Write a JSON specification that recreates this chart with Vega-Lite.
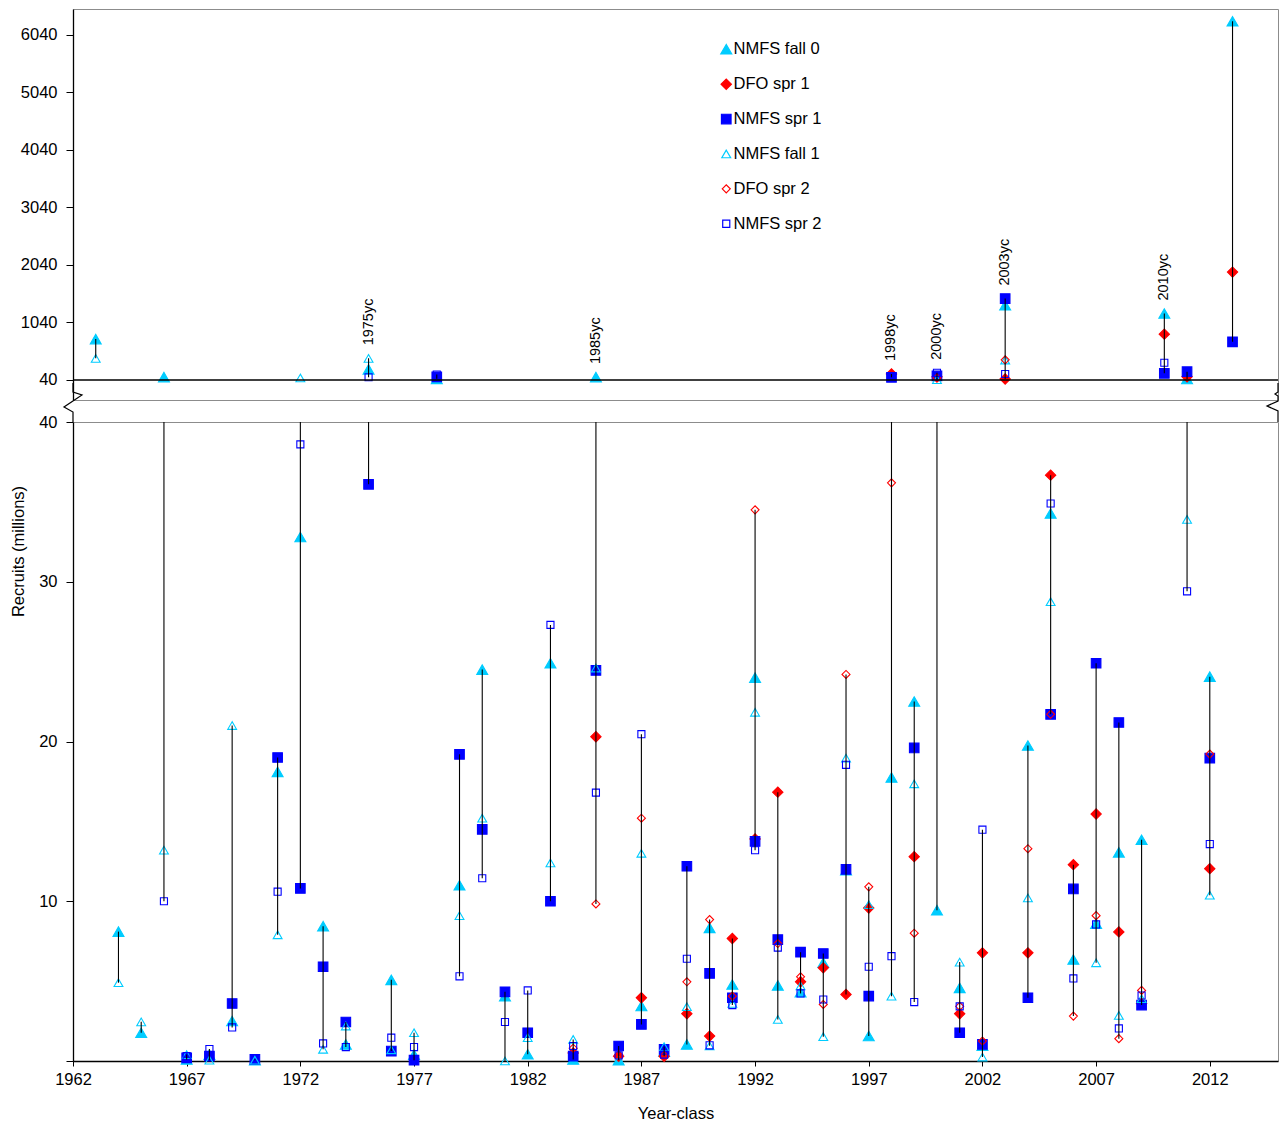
{
  "$schema": "https://vega.github.io/schema/vega-lite/v6.json",
  "padding": {"left": 10, "top": 8, "right": 2, "bottom": 5},
  "background": "white",
  "config": {
    "font": "Liberation Sans",
    "view": {"stroke": "#8c8c8c", "strokeWidth": 1},
    "axis": {"labelFont": "Liberation Sans", "labelFontSize": 16.5, "labelColor": "#000", "labelFlush": false, "titleFont": "Liberation Sans", "titleFontSize": 16.5, "titleFontWeight": "normal", "titleColor": "#000", "domainColor": "#000", "domainWidth": 1.3, "tickColor": "#000", "grid": false},
    "legend": {"orient": "none", "legendX": 645, "legendY": 32, "padding": 0, "labelFont": "Liberation Sans", "labelFontSize": 16.5, "labelColor": "#000", "rowPadding": 17.9, "labelOffset": -1, "symbolStrokeWidth": 1.2, "labelLimit": 300}
  },
  "datasets": {
    "recruits": [
      {"year": 1963, "series": "NMFS fall 0", "value": 751},
      {"year": 1963, "series": "NMFS fall 1", "value": 416},
      {"year": 1964, "series": "NMFS fall 0", "value": 8.1},
      {"year": 1964, "series": "NMFS fall 1", "value": 4.9},
      {"year": 1965, "series": "NMFS fall 0", "value": 1.77},
      {"year": 1965, "series": "NMFS fall 1", "value": 2.45},
      {"year": 1966, "series": "NMFS fall 0", "value": 90},
      {"year": 1966, "series": "NMFS fall 1", "value": 13.2},
      {"year": 1966, "series": "NMFS spr 2", "value": 10.0},
      {"year": 1967, "series": "NMFS fall 0", "value": 0.1},
      {"year": 1967, "series": "NMFS spr 1", "value": 0.2},
      {"year": 1967, "series": "NMFS fall 1", "value": 0.4},
      {"year": 1967, "series": "NMFS spr 2", "value": 0.3},
      {"year": 1968, "series": "NMFS fall 0", "value": 0.4},
      {"year": 1968, "series": "NMFS spr 1", "value": 0.3},
      {"year": 1968, "series": "NMFS fall 1", "value": 0.05},
      {"year": 1968, "series": "NMFS spr 2", "value": 0.75},
      {"year": 1969, "series": "NMFS fall 0", "value": 2.5},
      {"year": 1969, "series": "NMFS spr 1", "value": 3.6},
      {"year": 1969, "series": "NMFS fall 1", "value": 21.0},
      {"year": 1969, "series": "NMFS spr 2", "value": 2.1},
      {"year": 1970, "series": "NMFS fall 0", "value": 0.05},
      {"year": 1970, "series": "NMFS spr 1", "value": 0.1},
      {"year": 1970, "series": "NMFS fall 1", "value": 0.05},
      {"year": 1971, "series": "NMFS fall 0", "value": 18.1},
      {"year": 1971, "series": "NMFS spr 1", "value": 19.0},
      {"year": 1971, "series": "NMFS fall 1", "value": 7.9},
      {"year": 1971, "series": "NMFS spr 2", "value": 10.6},
      {"year": 1972, "series": "NMFS fall 0", "value": 32.8},
      {"year": 1972, "series": "NMFS spr 1", "value": 10.8},
      {"year": 1972, "series": "NMFS fall 1", "value": 75},
      {"year": 1972, "series": "NMFS spr 2", "value": 38.6},
      {"year": 1973, "series": "NMFS fall 0", "value": 8.44},
      {"year": 1973, "series": "NMFS spr 1", "value": 5.9},
      {"year": 1973, "series": "NMFS fall 1", "value": 0.73},
      {"year": 1973, "series": "NMFS spr 2", "value": 1.1},
      {"year": 1974, "series": "NMFS fall 0", "value": 1.04},
      {"year": 1974, "series": "NMFS spr 1", "value": 2.44},
      {"year": 1974, "series": "NMFS fall 1", "value": 2.19},
      {"year": 1974, "series": "NMFS spr 2", "value": 0.87},
      {"year": 1975, "series": "NMFS fall 0", "value": 225},
      {"year": 1975, "series": "NMFS spr 1", "value": 36.1},
      {"year": 1975, "series": "NMFS fall 1", "value": 416},
      {"year": 1975, "series": "NMFS spr 2", "value": 87},
      {"year": 1976, "series": "NMFS fall 0", "value": 5.08},
      {"year": 1976, "series": "NMFS spr 1", "value": 0.62},
      {"year": 1976, "series": "NMFS fall 1", "value": 0.7},
      {"year": 1976, "series": "NMFS spr 2", "value": 1.46},
      {"year": 1977, "series": "NMFS fall 0", "value": 0.4},
      {"year": 1977, "series": "NMFS spr 1", "value": 0.05},
      {"year": 1977, "series": "NMFS fall 1", "value": 1.77},
      {"year": 1977, "series": "NMFS spr 2", "value": 0.87},
      {"year": 1978, "series": "NMFS fall 0", "value": 60},
      {"year": 1978, "series": "NMFS spr 1", "value": 95},
      {"year": 1978, "series": "NMFS spr 2", "value": 135},
      {"year": 1979, "series": "NMFS fall 0", "value": 11.0},
      {"year": 1979, "series": "NMFS spr 1", "value": 19.2},
      {"year": 1979, "series": "NMFS fall 1", "value": 9.1},
      {"year": 1979, "series": "NMFS spr 2", "value": 5.3},
      {"year": 1980, "series": "NMFS fall 0", "value": 24.5},
      {"year": 1980, "series": "NMFS spr 1", "value": 14.5},
      {"year": 1980, "series": "NMFS fall 1", "value": 15.2},
      {"year": 1980, "series": "NMFS spr 2", "value": 11.44},
      {"year": 1981, "series": "NMFS fall 0", "value": 4.06},
      {"year": 1981, "series": "NMFS spr 1", "value": 4.33},
      {"year": 1981, "series": "NMFS fall 1", "value": 0.0},
      {"year": 1981, "series": "NMFS spr 2", "value": 2.44},
      {"year": 1982, "series": "NMFS fall 0", "value": 0.42},
      {"year": 1982, "series": "NMFS spr 1", "value": 1.77},
      {"year": 1982, "series": "NMFS fall 1", "value": 1.46},
      {"year": 1982, "series": "NMFS spr 2", "value": 4.42},
      {"year": 1983, "series": "NMFS fall 0", "value": 24.9},
      {"year": 1983, "series": "NMFS spr 1", "value": 10.0},
      {"year": 1983, "series": "NMFS fall 1", "value": 12.4},
      {"year": 1983, "series": "NMFS spr 2", "value": 27.3},
      {"year": 1984, "series": "NMFS fall 0", "value": 0.1},
      {"year": 1984, "series": "DFO spr 1", "value": 0.5},
      {"year": 1984, "series": "NMFS spr 1", "value": 0.31},
      {"year": 1984, "series": "NMFS fall 1", "value": 1.35},
      {"year": 1984, "series": "DFO spr 2", "value": 0.8},
      {"year": 1984, "series": "NMFS spr 2", "value": 0.94},
      {"year": 1985, "series": "NMFS fall 0", "value": 90},
      {"year": 1985, "series": "DFO spr 1", "value": 20.3},
      {"year": 1985, "series": "NMFS spr 1", "value": 24.45},
      {"year": 1985, "series": "NMFS fall 1", "value": 24.6},
      {"year": 1985, "series": "DFO spr 2", "value": 9.83},
      {"year": 1985, "series": "NMFS spr 2", "value": 16.8},
      {"year": 1986, "series": "NMFS fall 0", "value": 0.05},
      {"year": 1986, "series": "DFO spr 1", "value": 0.3},
      {"year": 1986, "series": "NMFS spr 1", "value": 0.94},
      {"year": 1986, "series": "NMFS fall 1", "value": 0.05},
      {"year": 1986, "series": "DFO spr 2", "value": 0.4},
      {"year": 1986, "series": "NMFS spr 2", "value": 0.35},
      {"year": 1987, "series": "NMFS fall 0", "value": 3.44},
      {"year": 1987, "series": "DFO spr 1", "value": 3.96},
      {"year": 1987, "series": "NMFS spr 1", "value": 2.29},
      {"year": 1987, "series": "NMFS fall 1", "value": 13.0},
      {"year": 1987, "series": "DFO spr 2", "value": 15.2},
      {"year": 1987, "series": "NMFS spr 2", "value": 20.46},
      {"year": 1988, "series": "NMFS fall 0", "value": 0.6},
      {"year": 1988, "series": "DFO spr 1", "value": 0.3},
      {"year": 1988, "series": "NMFS spr 1", "value": 0.73},
      {"year": 1988, "series": "NMFS fall 1", "value": 0.9},
      {"year": 1988, "series": "DFO spr 2", "value": 0.35},
      {"year": 1988, "series": "NMFS spr 2", "value": 0.4},
      {"year": 1989, "series": "NMFS fall 0", "value": 1.04},
      {"year": 1989, "series": "DFO spr 1", "value": 2.96},
      {"year": 1989, "series": "NMFS spr 1", "value": 12.19},
      {"year": 1989, "series": "NMFS fall 1", "value": 3.4},
      {"year": 1989, "series": "DFO spr 2", "value": 4.96},
      {"year": 1989, "series": "NMFS spr 2", "value": 6.4},
      {"year": 1990, "series": "NMFS fall 0", "value": 8.33},
      {"year": 1990, "series": "DFO spr 1", "value": 1.56},
      {"year": 1990, "series": "NMFS spr 1", "value": 5.48},
      {"year": 1990, "series": "NMFS fall 1", "value": 0.95},
      {"year": 1990, "series": "DFO spr 2", "value": 8.85},
      {"year": 1990, "series": "NMFS spr 2", "value": 0.98},
      {"year": 1991, "series": "NMFS fall 0", "value": 4.79},
      {"year": 1991, "series": "DFO spr 1", "value": 7.67},
      {"year": 1991, "series": "NMFS spr 1", "value": 3.96},
      {"year": 1991, "series": "NMFS fall 1", "value": 3.6},
      {"year": 1991, "series": "DFO spr 2", "value": 4.06},
      {"year": 1991, "series": "NMFS spr 2", "value": 3.5},
      {"year": 1992, "series": "NMFS fall 0", "value": 24.0},
      {"year": 1992, "series": "DFO spr 1", "value": 13.9},
      {"year": 1992, "series": "NMFS spr 1", "value": 13.75},
      {"year": 1992, "series": "NMFS fall 1", "value": 21.83},
      {"year": 1992, "series": "DFO spr 2", "value": 34.5},
      {"year": 1992, "series": "NMFS spr 2", "value": 13.19},
      {"year": 1993, "series": "NMFS fall 0", "value": 4.73},
      {"year": 1993, "series": "DFO spr 1", "value": 16.83},
      {"year": 1993, "series": "NMFS spr 1", "value": 7.6},
      {"year": 1993, "series": "NMFS fall 1", "value": 2.6},
      {"year": 1993, "series": "DFO spr 2", "value": 7.35},
      {"year": 1993, "series": "NMFS spr 2", "value": 7.1},
      {"year": 1994, "series": "NMFS fall 0", "value": 4.3},
      {"year": 1994, "series": "DFO spr 1", "value": 4.96},
      {"year": 1994, "series": "NMFS spr 1", "value": 6.81},
      {"year": 1994, "series": "NMFS fall 1", "value": 4.7},
      {"year": 1994, "series": "DFO spr 2", "value": 5.27},
      {"year": 1994, "series": "NMFS spr 2", "value": 4.23},
      {"year": 1995, "series": "NMFS fall 0", "value": 6.15},
      {"year": 1995, "series": "DFO spr 1", "value": 5.83},
      {"year": 1995, "series": "NMFS spr 1", "value": 6.73},
      {"year": 1995, "series": "NMFS fall 1", "value": 1.52},
      {"year": 1995, "series": "DFO spr 2", "value": 3.54},
      {"year": 1995, "series": "NMFS spr 2", "value": 3.85},
      {"year": 1996, "series": "NMFS fall 0", "value": 11.94},
      {"year": 1996, "series": "DFO spr 1", "value": 4.17},
      {"year": 1996, "series": "NMFS spr 1", "value": 12.0},
      {"year": 1996, "series": "NMFS fall 1", "value": 18.96},
      {"year": 1996, "series": "DFO spr 2", "value": 24.2},
      {"year": 1996, "series": "NMFS spr 2", "value": 18.54},
      {"year": 1997, "series": "NMFS fall 0", "value": 1.56},
      {"year": 1997, "series": "DFO spr 1", "value": 9.58},
      {"year": 1997, "series": "NMFS spr 1", "value": 4.06},
      {"year": 1997, "series": "NMFS fall 1", "value": 9.79},
      {"year": 1997, "series": "DFO spr 2", "value": 10.9},
      {"year": 1997, "series": "NMFS spr 2", "value": 5.9},
      {"year": 1998, "series": "NMFS fall 0", "value": 17.75},
      {"year": 1998, "series": "DFO spr 1", "value": 144},
      {"year": 1998, "series": "NMFS spr 1", "value": 87},
      {"year": 1998, "series": "NMFS fall 1", "value": 4.06},
      {"year": 1998, "series": "DFO spr 2", "value": 36.19},
      {"year": 1998, "series": "NMFS spr 2", "value": 6.56},
      {"year": 1999, "series": "NMFS fall 0", "value": 22.5},
      {"year": 1999, "series": "DFO spr 1", "value": 12.79},
      {"year": 1999, "series": "NMFS spr 1", "value": 19.6},
      {"year": 1999, "series": "NMFS fall 1", "value": 17.35},
      {"year": 1999, "series": "DFO spr 2", "value": 8.0},
      {"year": 1999, "series": "NMFS spr 2", "value": 3.69},
      {"year": 2000, "series": "NMFS fall 0", "value": 9.44},
      {"year": 2000, "series": "DFO spr 1", "value": 95},
      {"year": 2000, "series": "NMFS spr 1", "value": 110},
      {"year": 2000, "series": "NMFS fall 1", "value": 45},
      {"year": 2000, "series": "DFO spr 2", "value": 75},
      {"year": 2000, "series": "NMFS spr 2", "value": 165},
      {"year": 2001, "series": "NMFS fall 0", "value": 4.58},
      {"year": 2001, "series": "DFO spr 1", "value": 2.96},
      {"year": 2001, "series": "NMFS spr 1", "value": 1.77},
      {"year": 2001, "series": "NMFS fall 1", "value": 6.19},
      {"year": 2001, "series": "DFO spr 2", "value": 3.42},
      {"year": 2001, "series": "NMFS spr 2", "value": 3.42},
      {"year": 2002, "series": "NMFS fall 0", "value": 0.95},
      {"year": 2002, "series": "DFO spr 1", "value": 6.77},
      {"year": 2002, "series": "NMFS spr 1", "value": 1.04},
      {"year": 2002, "series": "NMFS fall 1", "value": 0.25},
      {"year": 2002, "series": "DFO spr 2", "value": 1.25},
      {"year": 2002, "series": "NMFS spr 2", "value": 14.48},
      {"year": 2003, "series": "NMFS fall 0", "value": 1340},
      {"year": 2003, "series": "DFO spr 1", "value": 57},
      {"year": 2003, "series": "NMFS spr 1", "value": 1456},
      {"year": 2003, "series": "NMFS fall 1", "value": 387},
      {"year": 2003, "series": "DFO spr 2", "value": 390},
      {"year": 2003, "series": "NMFS spr 2", "value": 144},
      {"year": 2004, "series": "NMFS fall 0", "value": 19.75},
      {"year": 2004, "series": "DFO spr 1", "value": 6.77},
      {"year": 2004, "series": "NMFS spr 1", "value": 3.96},
      {"year": 2004, "series": "NMFS fall 1", "value": 10.21},
      {"year": 2004, "series": "DFO spr 2", "value": 13.29},
      {"year": 2005, "series": "NMFS fall 0", "value": 34.27},
      {"year": 2005, "series": "DFO spr 1", "value": 36.67},
      {"year": 2005, "series": "NMFS spr 1", "value": 21.7},
      {"year": 2005, "series": "NMFS fall 1", "value": 28.75},
      {"year": 2005, "series": "DFO spr 2", "value": 21.7},
      {"year": 2005, "series": "NMFS spr 2", "value": 34.9},
      {"year": 2006, "series": "NMFS fall 0", "value": 6.35},
      {"year": 2006, "series": "DFO spr 1", "value": 12.29},
      {"year": 2006, "series": "NMFS spr 1", "value": 10.77},
      {"year": 2006, "series": "DFO spr 2", "value": 2.81},
      {"year": 2006, "series": "NMFS spr 2", "value": 5.17},
      {"year": 2007, "series": "NMFS fall 0", "value": 8.6},
      {"year": 2007, "series": "DFO spr 1", "value": 15.46},
      {"year": 2007, "series": "NMFS spr 1", "value": 24.9},
      {"year": 2007, "series": "NMFS fall 1", "value": 6.15},
      {"year": 2007, "series": "DFO spr 2", "value": 9.1},
      {"year": 2007, "series": "NMFS spr 2", "value": 8.55},
      {"year": 2008, "series": "NMFS fall 0", "value": 13.06},
      {"year": 2008, "series": "DFO spr 1", "value": 8.08},
      {"year": 2008, "series": "NMFS spr 1", "value": 21.19},
      {"year": 2008, "series": "NMFS fall 1", "value": 2.85},
      {"year": 2008, "series": "DFO spr 2", "value": 1.4},
      {"year": 2008, "series": "NMFS spr 2", "value": 2.04},
      {"year": 2009, "series": "NMFS fall 0", "value": 13.85},
      {"year": 2009, "series": "DFO spr 1", "value": 3.6},
      {"year": 2009, "series": "NMFS spr 1", "value": 3.5},
      {"year": 2009, "series": "NMFS fall 1", "value": 3.9},
      {"year": 2009, "series": "DFO spr 2", "value": 4.42},
      {"year": 2009, "series": "NMFS spr 2", "value": 4.1},
      {"year": 2010, "series": "NMFS fall 0", "value": 1196},
      {"year": 2010, "series": "DFO spr 1", "value": 837},
      {"year": 2010, "series": "NMFS spr 1", "value": 156},
      {"year": 2010, "series": "NMFS spr 2", "value": 340},
      {"year": 2011, "series": "NMFS fall 0", "value": 57},
      {"year": 2011, "series": "DFO spr 1", "value": 97},
      {"year": 2011, "series": "NMFS spr 1", "value": 184},
      {"year": 2011, "series": "NMFS fall 1", "value": 33.9},
      {"year": 2011, "series": "NMFS spr 2", "value": 29.4},
      {"year": 2012, "series": "NMFS fall 0", "value": 24.06},
      {"year": 2012, "series": "DFO spr 1", "value": 12.04},
      {"year": 2012, "series": "NMFS spr 1", "value": 18.96},
      {"year": 2012, "series": "NMFS fall 1", "value": 10.38},
      {"year": 2012, "series": "DFO spr 2", "value": 19.21},
      {"year": 2012, "series": "NMFS spr 2", "value": 13.58},
      {"year": 2013, "series": "NMFS fall 0", "value": 6279},
      {"year": 2013, "series": "DFO spr 1", "value": 1917},
      {"year": 2013, "series": "NMFS spr 1", "value": 704}
    ]
  },
  "vconcat": [
    {
      "width": 1205,
      "height": 391,
      "layer": [
        {
          "data": {"name": "recruits"},
          "transform": [{"filter": "datum.value >= 40"}],
          "mark": {"type": "point", "filled": true, "opacity": 1, "strokeWidth": 1.1},
          "encoding": {
            "x": {"field": "year", "type": "quantitative", "scale": {"domain": [1962, 2015], "nice": false, "zero": false}, "axis": null},
            "y": {"field": "value", "type": "quantitative", "scale": {"domain": [-308, 6492], "nice": false, "zero": false}, "axis": {"values": [40, 1040, 2040, 3040, 4040, 5040, 6040], "format": "d", "title": null, "tickSize": 7, "labelPadding": 9}},
            "shape": {"field": "series", "type": "nominal", "scale": {"domain": ["NMFS fall 0", "DFO spr 1", "NMFS spr 1", "NMFS fall 1", "DFO spr 2", "NMFS spr 2"], "range": ["triangle-up", "diamond", "square", "triangle-up", "diamond", "square"]}, "legend": {"title": null}},
            "fill": {"field": "series", "type": "nominal", "scale": {"domain": ["NMFS fall 0", "DFO spr 1", "NMFS spr 1", "NMFS fall 1", "DFO spr 2", "NMFS spr 2"], "range": ["#00CCFF", "#FF0000", "#0000FF", "transparent", "transparent", "transparent"]}, "legend": {"title": null}},
            "stroke": {"field": "series", "type": "nominal", "scale": {"domain": ["NMFS fall 0", "DFO spr 1", "NMFS spr 1", "NMFS fall 1", "DFO spr 2", "NMFS spr 2"], "range": ["#00CCFF", "#FF0000", "#0000FF", "#00CCFF", "#FF0000", "#0000FF"]}, "legend": {"title": null}},
            "size": {"field": "series", "type": "nominal", "scale": {"domain": ["NMFS fall 0", "DFO spr 1", "NMFS spr 1", "NMFS fall 1", "DFO spr 2", "NMFS spr 2"], "range": [120, 50, 42, 50, 45, 42]}, "legend": {"title": null}}
          }
        },
        {
          "data": {"name": "recruits"},
          "transform": [{"filter": "datum.value >= 40"}],
          "mark": {"type": "rule", "color": "#000", "strokeWidth": 1.1},
          "encoding": {
            "x": {"field": "year", "type": "quantitative", "axis": null},
            "y": {"aggregate": "min", "field": "value", "type": "quantitative"},
            "y2": {"aggregate": "max", "field": "value"}
          }
        },
        {
          "data": {"values": [{"base": 40}]},
          "mark": {"type": "rule", "color": "#000", "strokeWidth": 1.5},
          "encoding": {"y": {"field": "base", "type": "quantitative"}}
        },
        {
          "data": {"name": "recruits"},
          "transform": [
            {"joinaggregate": [{"op": "max", "field": "value", "as": "maxv"}], "groupby": ["year"]},
            {"filter": "datum.value == datum.maxv && indexof([1975, 1985, 1998, 2000, 2003, 2010], datum.year) >= 0"},
            {"calculate": "datum.year + 'yc'", "as": "label"}
          ],
          "mark": {"type": "text", "angle": 270, "align": "left", "baseline": "middle", "dx": 13, "fontSize": 14.5, "font": "Liberation Sans", "color": "#000"},
          "encoding": {
            "x": {"field": "year", "type": "quantitative", "axis": null},
            "y": {"field": "value", "type": "quantitative"},
            "text": {"field": "label", "type": "nominal"}
          }
        }
      ]
    },
    {
      "width": 1205,
      "height": 639,
      "layer": [
        {
          "data": {"name": "recruits"},
          "transform": [{"filter": "datum.value <= 40"}],
          "mark": {"type": "point", "filled": true, "opacity": 1, "strokeWidth": 1.1},
          "encoding": {
            "x": {"field": "year", "type": "quantitative", "scale": {"domain": [1962, 2015], "nice": false, "zero": false}, "axis": {"values": [1962, 1967, 1972, 1977, 1982, 1987, 1992, 1997, 2002, 2007, 2012], "format": "d", "title": "Year-class", "tickSize": 5, "labelPadding": 5, "titlePadding": 18}},
            "y": {"field": "value", "type": "quantitative", "scale": {"domain": [0, 40], "nice": false, "clamp": true}, "axis": {"values": [0, 10, 20, 30, 40], "labelExpr": "datum.value == 0 ? '' : datum.label", "title": "Recruits (millions)", "titleY": 129, "titlePadding": 12, "tickSize": 7, "labelPadding": 9}},
            "shape": {"field": "series", "type": "nominal", "scale": {"domain": ["NMFS fall 0", "DFO spr 1", "NMFS spr 1", "NMFS fall 1", "DFO spr 2", "NMFS spr 2"], "range": ["triangle-up", "diamond", "square", "triangle-up", "diamond", "square"]}, "legend": {"title": null}},
            "fill": {"field": "series", "type": "nominal", "scale": {"domain": ["NMFS fall 0", "DFO spr 1", "NMFS spr 1", "NMFS fall 1", "DFO spr 2", "NMFS spr 2"], "range": ["#00CCFF", "#FF0000", "#0000FF", "transparent", "transparent", "transparent"]}, "legend": {"title": null}},
            "stroke": {"field": "series", "type": "nominal", "scale": {"domain": ["NMFS fall 0", "DFO spr 1", "NMFS spr 1", "NMFS fall 1", "DFO spr 2", "NMFS spr 2"], "range": ["#00CCFF", "#FF0000", "#0000FF", "#00CCFF", "#FF0000", "#0000FF"]}, "legend": {"title": null}},
            "size": {"field": "series", "type": "nominal", "scale": {"domain": ["NMFS fall 0", "DFO spr 1", "NMFS spr 1", "NMFS fall 1", "DFO spr 2", "NMFS spr 2"], "range": [120, 50, 42, 50, 45, 42]}, "legend": {"title": null}}
          }
        },
        {
          "data": {"name": "recruits"},
          "mark": {"type": "rule", "color": "#000", "strokeWidth": 1.1},
          "encoding": {
            "x": {"field": "year", "type": "quantitative"},
            "y": {"aggregate": "min", "field": "value", "type": "quantitative"},
            "y2": {"aggregate": "max", "field": "value"}
          }
        },
        {
          "data": {"values": [{"edge": 1962, "base": 40}]},
          "mark": {"type": "point", "shape": "M0,0 L0,-0.5 L-0.45,-0.75 L0.45,-1.35 L0,-1.5 L0,-1.95", "size": 1600, "filled": false, "color": "#000", "strokeWidth": 1.2, "opacity": 1},
          "encoding": {"x": {"field": "edge", "type": "quantitative"}, "y": {"field": "base", "type": "quantitative"}}
        },
        {
          "data": {"values": [{"edge": 2015, "base": 40}]},
          "mark": {"type": "point", "shape": "M0,0 L0,-0.55 L-0.55,-0.8 L0,-1.05 L0,-1.3 L-0.15,-1.4 L0,-1.5 L0,-1.95", "size": 1600, "filled": false, "color": "#000", "strokeWidth": 1.2, "opacity": 1},
          "encoding": {"x": {"field": "edge", "type": "quantitative"}, "y": {"field": "base", "type": "quantitative"}}
        }
      ]
    }
  ],
  "spacing": 22,
  "bounds": "flush",
  "resolve": {"scale": {"y": "independent"}}
}
